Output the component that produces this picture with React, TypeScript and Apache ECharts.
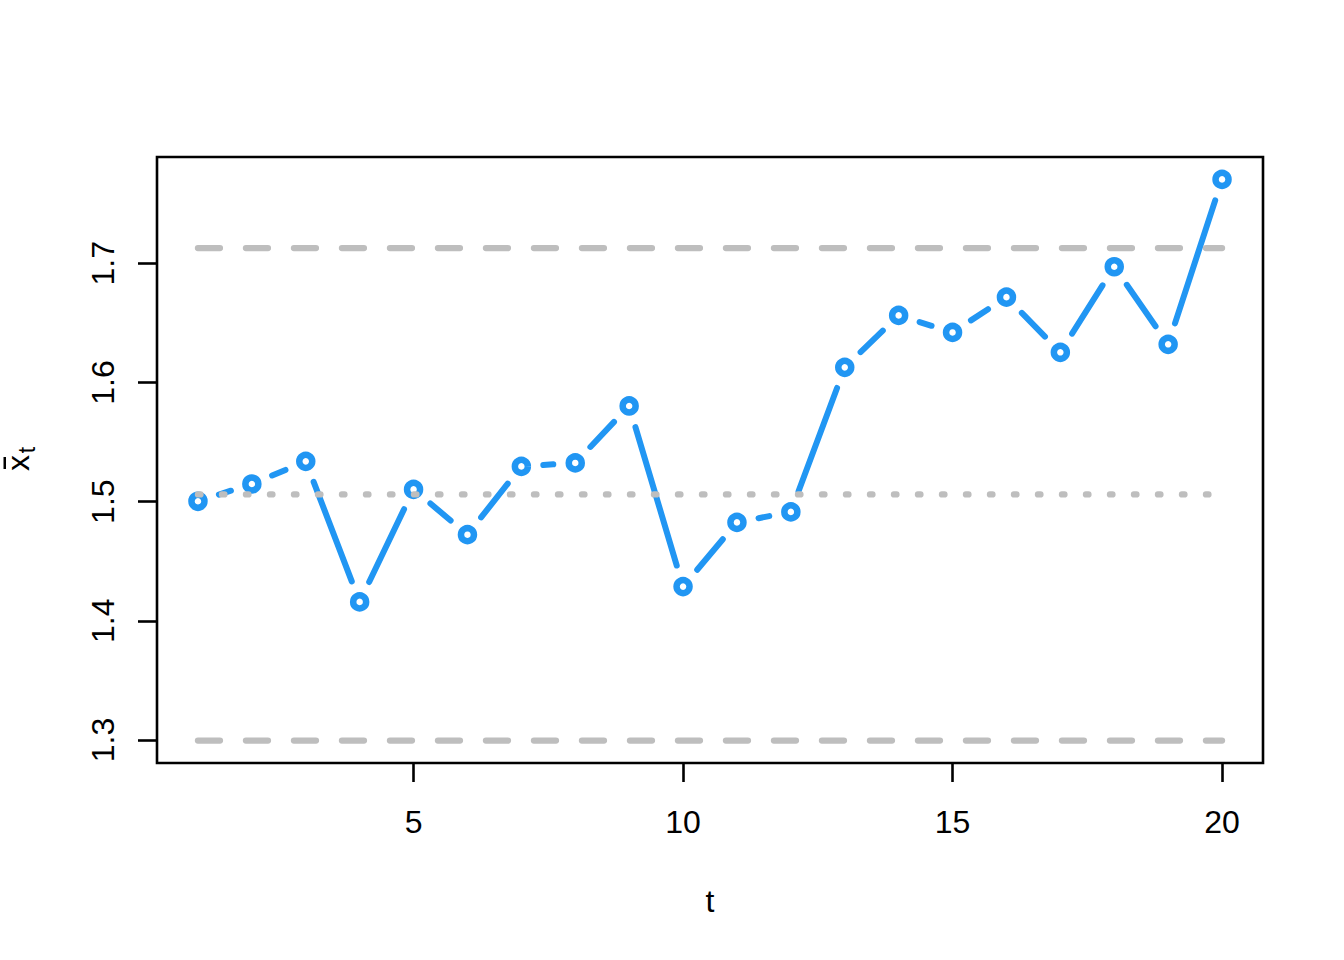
import React, { useEffect, useRef } from "react";
import * as echarts from "echarts";

const tValues = [1, 2, 3, 4, 5, 6, 7, 8, 9, 10, 11, 12, 13, 14, 15, 16, 17, 18, 19, 20];
const xbarValues = [
  1.5003, 1.5148, 1.5338, 1.4159, 1.5103, 1.4723, 1.5296, 1.5325, 1.5803, 1.4287,
  1.4826, 1.4914, 1.6127, 1.6563, 1.642, 1.6716, 1.6253, 1.6971, 1.632, 1.7704,
];
const upperLimit = 1.7128;
const centerLine = 1.5061;
const lowerLimit = 1.2995;
const xTicks = [5, 10, 15, 20];
const yTicks = [1.3, 1.4, 1.5, 1.6, 1.7];
const xRange = [0.24, 20.76];
const yRange = [1.2807, 1.7892];

const BLUE = "#2196F3";
const GRAY = "#BEBEBE";
const FONT = "Liberation Sans, Arial, sans-serif";
const LINE_W = 6;
const GAP = 22;

export default function App() {
  const ref = useRef<HTMLDivElement>(null);
  useEffect(() => {
    if (!ref.current) return;
    const chart = echarts.init(ref.current, null, { renderer: "svg" });
    const pts = tValues.map((t, i) => [t, xbarValues[i]]);
    const hline = (v: number) => [
      [tValues[0], v],
      [tValues[tValues.length - 1], v],
    ];
    chart.setOption({
      animation: false,
      backgroundColor: "#ffffff",
      grid: {
        left: 157,
        right: 81,
        top: 157,
        bottom: 197,
        show: true,
        borderColor: "#000",
        borderWidth: 2.6,
        backgroundColor: "transparent",
      },
      xAxis: {
        type: "value",
        min: xRange[0],
        max: xRange[1],
        splitLine: { show: false },
        axisLine: { show: false },
        axisTick: {
          show: true,
          customValues: xTicks,
          length: 19,
          lineStyle: { color: "#000", width: 2.6 },
        },
        axisLabel: {
          customValues: xTicks,
          margin: 43,
          fontSize: 32,
          fontFamily: FONT,
          color: "#000",
        },
        name: "t",
        nameLocation: "middle",
        nameGap: 122,
        nameTextStyle: { fontSize: 32, fontFamily: FONT, color: "#000" },
      },
      yAxis: {
        type: "value",
        min: yRange[0],
        max: yRange[1],
        splitLine: { show: false },
        axisLine: { show: false },
        axisTick: {
          show: true,
          customValues: yTicks,
          length: 19,
          lineStyle: { color: "#000", width: 2.6 },
        },
        axisLabel: {
          customValues: yTicks,
          rotate: 90,
          margin: 38,
          fontSize: 32,
          fontFamily: FONT,
          color: "#000",
          formatter: (v: number) => v.toFixed(1),
        },
      },
      graphic: [
        {
          type: "text",
          x: 18,
          y: 463,
          rotation: Math.PI / 2,
          style: {
            text: "x",
            fontSize: 32,
            fontFamily: FONT,
            fill: "#000",
            align: "center",
            verticalAlign: "middle",
          },
        },
        {
          type: "text",
          x: 27,
          y: 450,
          rotation: Math.PI / 2,
          style: {
            text: "t",
            fontSize: 23,
            fontFamily: FONT,
            fill: "#000",
            align: "center",
            verticalAlign: "middle",
          },
        },
        {
          type: "rect",
          shape: { x: 3.5, y: 457, width: 2.5, height: 12 },
          style: { fill: "#000" },
        },
      ],
      series: [
        {
          type: "custom",
          data: pts,
          encode: { x: 0, y: 1 },
          z: 2,
          silent: true,
          renderItem: (params: any, api: any) => {
            const i = params.dataIndex;
            if (i >= pts.length - 1) return null;
            const a = api.coord(pts[i]);
            const b = api.coord(pts[i + 1]);
            const dx = b[0] - a[0];
            const dy = b[1] - a[1];
            const len = Math.sqrt(dx * dx + dy * dy);
            if (len <= 2 * GAP) return null;
            const ux = dx / len;
            const uy = dy / len;
            return {
              type: "line",
              shape: {
                x1: a[0] + ux * GAP,
                y1: a[1] + uy * GAP,
                x2: b[0] - ux * GAP,
                y2: b[1] - uy * GAP,
              },
              style: { stroke: BLUE, lineWidth: LINE_W, lineCap: "round", fill: null },
            };
          },
        },
        {
          type: "scatter",
          data: pts,
          symbol: "circle",
          symbolSize: 13,
          itemStyle: { color: "#ffffff", borderColor: BLUE, borderWidth: 6.5, opacity: 1 },
          z: 4,
          silent: true,
        },
        {
          type: "line",
          data: hline(upperLimit),
          symbol: "none",
          lineStyle: { color: GRAY, width: 6.3, type: [22, 26], cap: "round" },
          z: 5,
        },
        {
          type: "line",
          data: hline(lowerLimit),
          symbol: "none",
          lineStyle: { color: GRAY, width: 6.3, type: [22, 26], cap: "round" },
          z: 5,
        },
        {
          type: "line",
          data: hline(centerLine),
          symbol: "none",
          lineStyle: { color: GRAY, width: 6.3, type: [2.5, 21.5], cap: "round" },
          z: 5,
        },
      ],
    });
    return () => chart.dispose();
  }, []);
  return (
    <div
      ref={ref}
      style={{ position: "fixed", left: 0, top: 0, width: 1344, height: 960, background: "#fff" }}
    />
  );
}
